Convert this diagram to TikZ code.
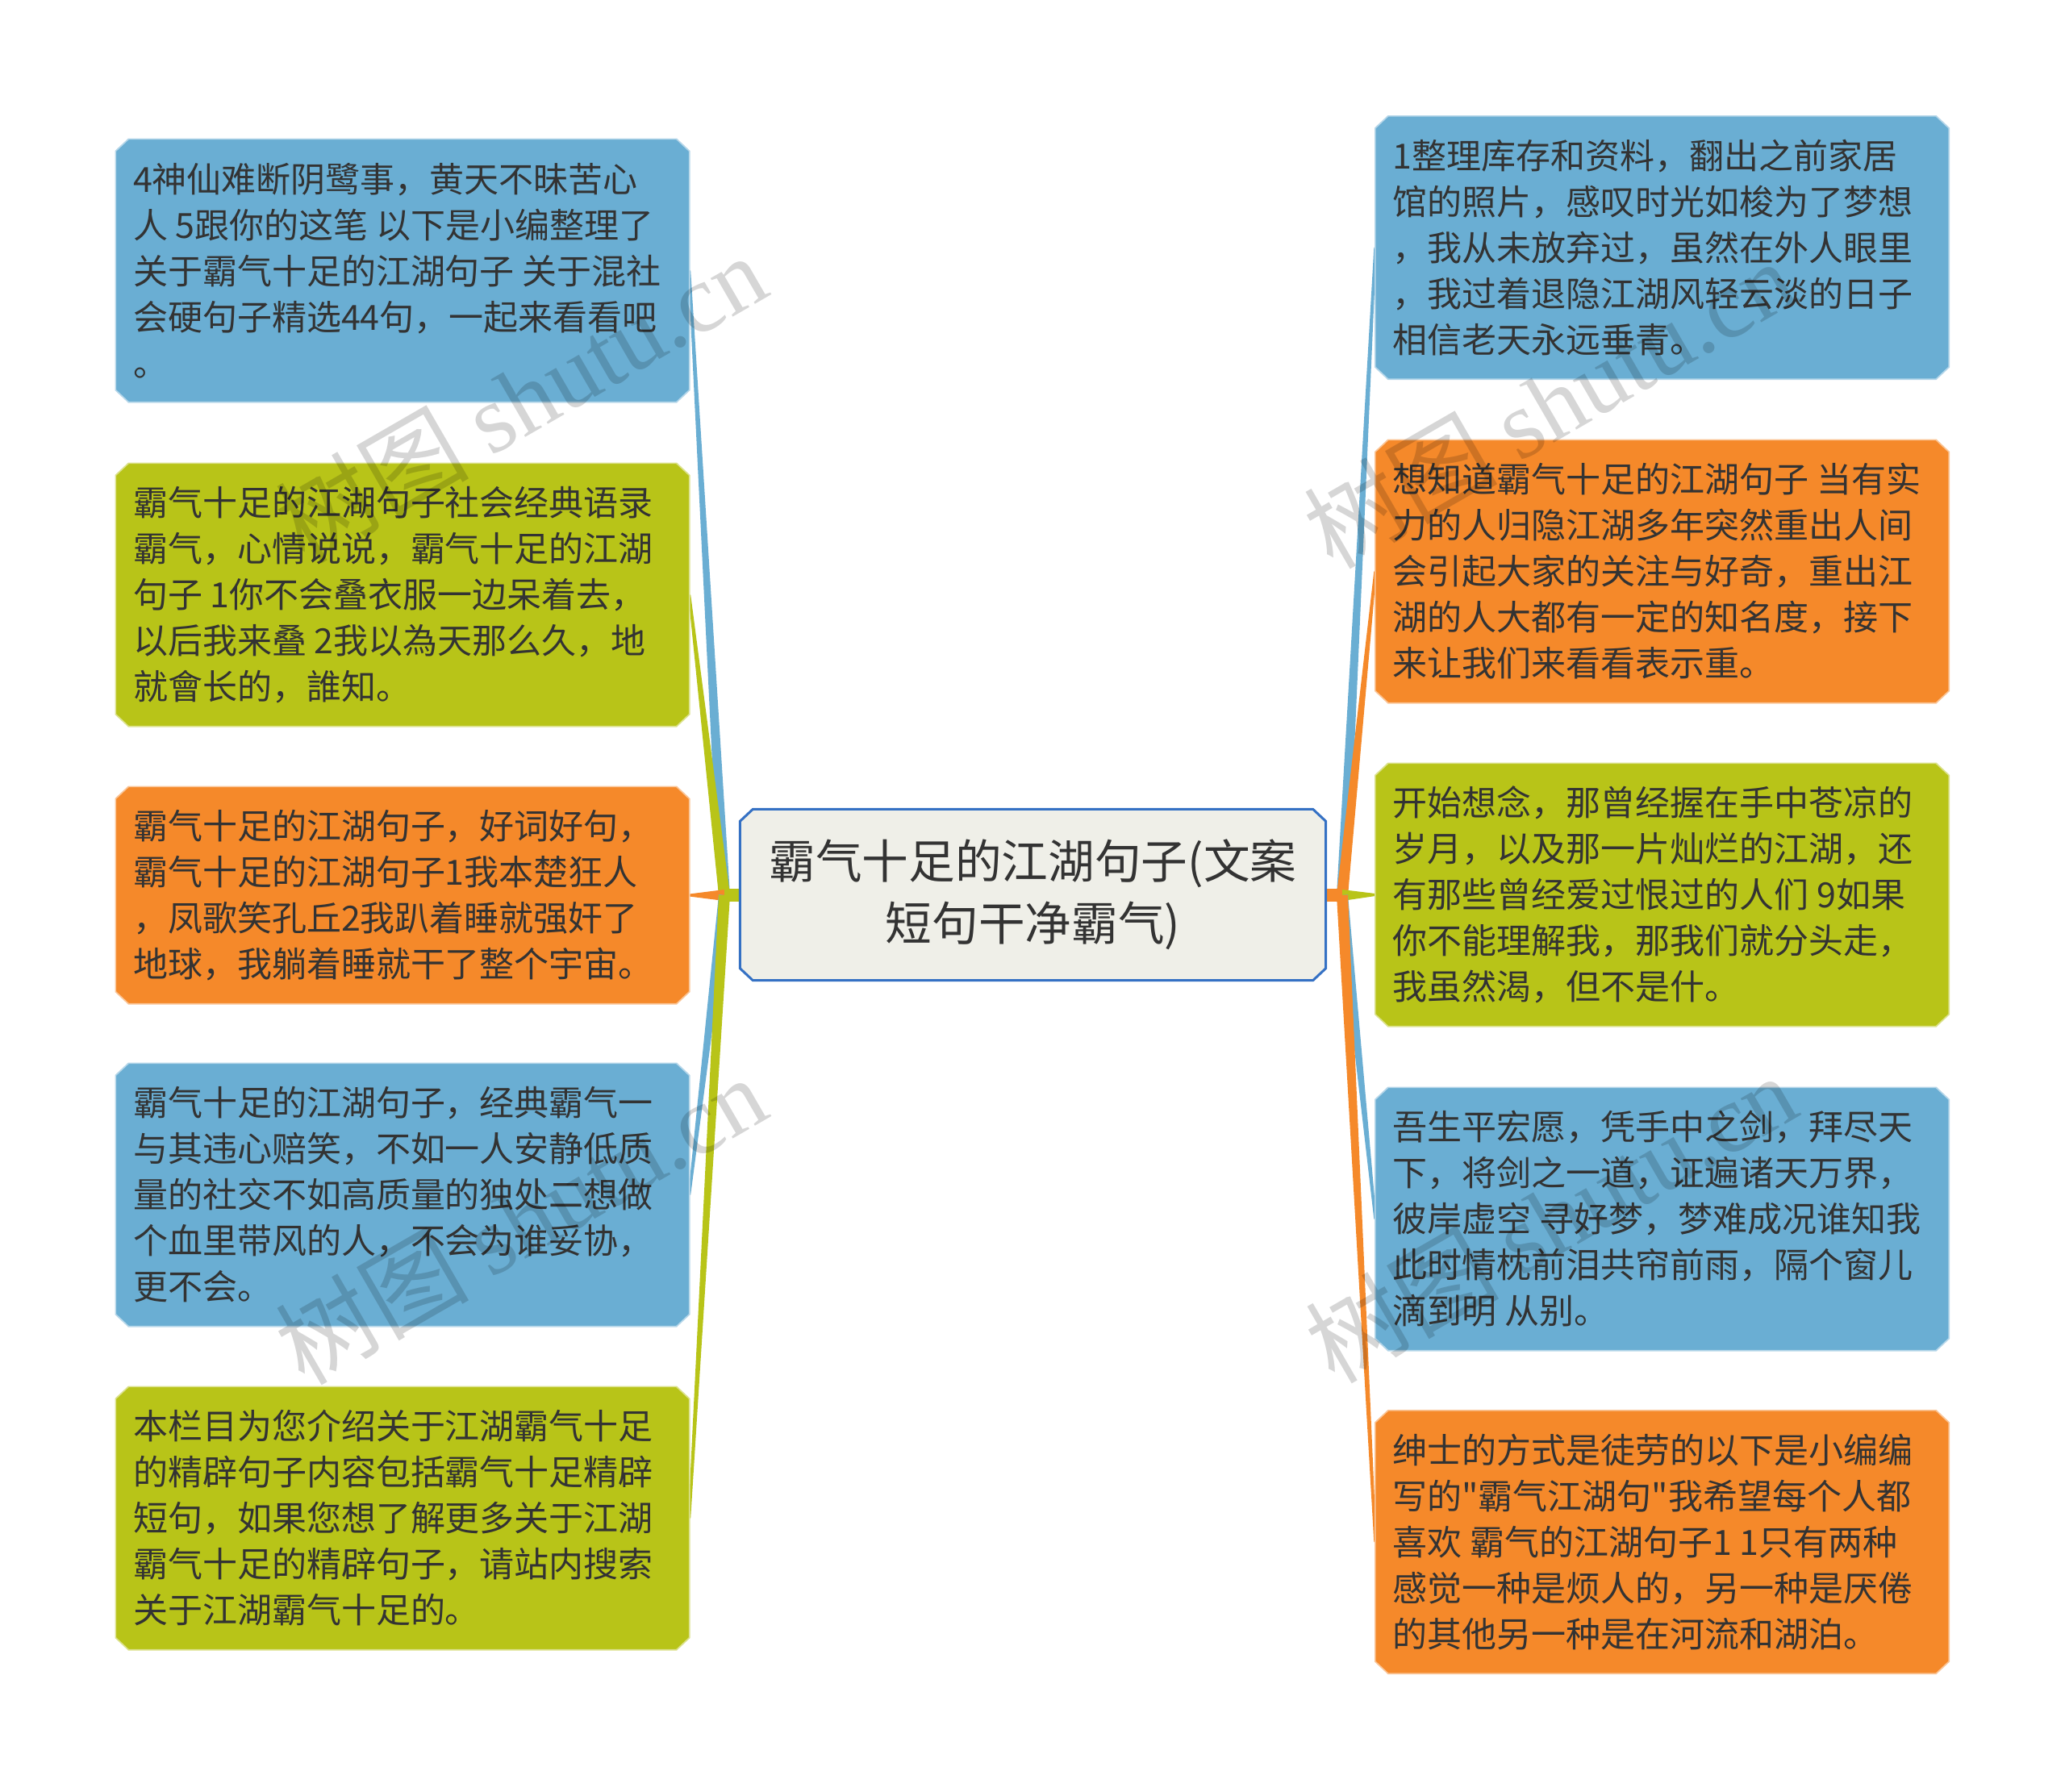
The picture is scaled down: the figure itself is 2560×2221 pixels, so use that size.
\documentclass[tikz,border=0pt]{standalone}
\usepackage{fontspec}
\setmainfont{Noto Sans CJK SC}
\newfontfamily\cjkplain{Noto Sans CJK SC}
\newfontfamily\wmlatin{Liberation Serif}
\usetikzlibrary{calc}
\definecolor{bblue}{RGB}{106,174,211}
\definecolor{bgreen}{RGB}{184,196,24}
\definecolor{borange}{RGB}{245,137,42}
\definecolor{cfill}{RGB}{239,239,232}
\definecolor{cborder}{RGB}{53,113,196}
\definecolor{tcol}{RGB}{51,51,51}
\newcommand\qq{{\cjkplain\char"22}}
\newcommand\chbox[4]{% name, fill, draw, width
  \path[fill=#2, draw=#3, line width=#4] ([xshift=4.8pt]#1.north west) -- ([xshift=-4.8pt]#1.north east) -- ([yshift=-4.5pt]#1.north east) -- ([yshift=4.5pt]#1.south east) -- ([xshift=-4.8pt]#1.south east) -- ([xshift=4.8pt]#1.south west) -- ([yshift=4.5pt]#1.south west) -- ([yshift=-4.5pt]#1.north west) -- cycle;}
\newcommand\branch[4]{% color, root, junction, end
  \fill[#1] ($(#2)+(0,2.25pt)$) rectangle ($(#3)+(0,-2.25pt)$);
  \fill[#1] ($(#3)!2.1pt!90:(#4)$) -- ($(#4)!0.45pt!-90:(#3)$) -- ($(#4)!0.45pt!90:(#3)$) -- ($(#3)!2.1pt!-90:(#4)$) -- cycle;}
\tikzset{
  boxn/.style={rectangle, draw=none, inner sep=0, minimum width=213pt, minimum height=97.5pt},
  txt/.style={anchor=west, inner sep=0, align=left, text=tcol, font=\fontsize{12.9pt}{17.1pt}\selectfont},
  ctxt/.style={inner sep=0, align=center, text=tcol, font=\fontsize{17.3pt}{23pt}\selectfont},
  wm/.style={rotate=30, text=black, text opacity=0.16, inner sep=0, font=\fontsize{36pt}{40pt}\selectfont}
}
\begin{document}
\begin{tikzpicture}[x=0.3pt, y=-0.3pt]
\useasboundingbox (0,0) rectangle (2560,2221);
\fill[white] (0,0) rectangle (2560,2221);
% node frames
\node[boxn, minimum width=217.5pt, minimum height=63.3pt] (C) at (1280.5,1109.5) {};
\node[boxn] (L1) at (499,335.5) {};
\node[boxn] (L2) at (499,737.5) {};
\node[boxn, minimum height=80.4pt] (L3) at (499,1110) {};
\node[boxn] (L4) at (499,1481.5) {};
\node[boxn] (L5) at (499,1882.5) {};
\node[boxn] (R1) at (2060.5,307) {};
\node[boxn] (R2) at (2060.5,708.5) {};
\node[boxn] (R3) at (2060.5,1109.5) {};
\node[boxn] (R4) at (2060.5,1511.5) {};
\node[boxn] (R5) at (2060.5,1912) {};
\coordinate (JL) at (898,1110);
\coordinate (JR) at (1664,1110);
% branches
\branch{bblue}{C.west}{JL}{L1.east}
\branch{bgreen}{C.west}{JL}{L2.east}
\branch{borange}{C.west}{JL}{L3.east}
\branch{bblue}{C.west}{JL}{L4.east}
\branch{bgreen}{C.west}{JL}{L5.east}
\branch{bblue}{C.east}{JR}{R1.west}
\branch{borange}{C.east}{JR}{R2.west}
\branch{bgreen}{C.east}{JR}{R3.west}
\branch{bblue}{C.east}{JR}{R4.west}
\branch{borange}{C.east}{JR}{R5.west}
% boxes
\chbox{C}{cfill}{cborder}{0.9pt}
\chbox{L1}{bblue}{bblue!50!white}{0.5pt}
\chbox{L2}{bgreen}{bgreen!50!white}{0.5pt}
\chbox{L3}{borange}{borange!50!white}{0.5pt}
\chbox{L4}{bblue}{bblue!50!white}{0.5pt}
\chbox{L5}{bgreen}{bgreen!50!white}{0.5pt}
\chbox{R1}{bblue}{bblue!50!white}{0.5pt}
\chbox{R2}{borange}{borange!50!white}{0.5pt}
\chbox{R3}{bgreen}{bgreen!50!white}{0.5pt}
\chbox{R4}{bblue}{bblue!50!white}{0.5pt}
\chbox{R5}{borange}{borange!50!white}{0.5pt}
% texts
\node[ctxt] (Ct) at (C.center) {霸气十足的江湖句子(文案\\短句干净霸气)};
\node[txt] (L1t) at ([xshift=6.3pt]L1.west) {4神仙难断阴鹭事，黄天不昧苦心\\人 5跟你的这笔 以下是小编整理了\\关于霸气十足的江湖句子 关于混社\\会硬句子精选44句，一起来看看吧\\。};
\node[txt] (L2t) at ([xshift=6.3pt]L2.west) {霸气十足的江湖句子社会经典语录\\霸气，心情说说，霸气十足的江湖\\句子 1你不会叠衣服一边呆着去，\\以后我来叠 2我以為天那么久，地\\就會长的，誰知。};
\node[txt] (L3t) at ([xshift=6.3pt]L3.west) {霸气十足的江湖句子，好词好句，\\霸气十足的江湖句子1我本楚狂人\\，凤歌笑孔丘2我趴着睡就强奸了\\地球，我躺着睡就干了整个宇宙。};
\node[txt] (L4t) at ([xshift=6.3pt]L4.west) {霸气十足的江湖句子，经典霸气一\\与其违心赔笑，不如一人安静低质\\量的社交不如高质量的独处二想做\\个血里带风的人，不会为谁妥协，\\更不会。};
\node[txt] (L5t) at ([xshift=6.3pt]L5.west) {本栏目为您介绍关于江湖霸气十足\\的精辟句子内容包括霸气十足精辟\\短句，如果您想了解更多关于江湖\\霸气十足的精辟句子，请站内搜索\\关于江湖霸气十足的。};
\node[txt] (R1t) at ([xshift=6.3pt]R1.west) {1整理库存和资料，翻出之前家居\\馆的照片，感叹时光如梭为了梦想\\，我从未放弃过，虽然在外人眼里\\，我过着退隐江湖风轻云淡的日子\\相信老天永远垂青。};
\node[txt] (R2t) at ([xshift=6.3pt]R2.west) {想知道霸气十足的江湖句子 当有实\\力的人归隐江湖多年突然重出人间\\会引起大家的关注与好奇，重出江\\湖的人大都有一定的知名度，接下\\来让我们来看看表示重。};
\node[txt] (R3t) at ([xshift=6.3pt]R3.west) {开始想念，那曾经握在手中苍凉的\\岁月，以及那一片灿烂的江湖，还\\有那些曾经爱过恨过的人们 9如果\\你不能理解我，那我们就分头走，\\我虽然渴，但不是什。};
\node[txt] (R4t) at ([xshift=6.3pt]R4.west) {吾生平宏愿，凭手中之剑，拜尽天\\下，将剑之一道，证遍诸天万界，\\彼岸虚空 寻好梦，梦难成况谁知我\\此时情枕前泪共帘前雨，隔个窗儿\\滴到明 从别。};
\node[txt] (R5t) at ([xshift=6.3pt]R5.west) {绅士的方式是徒劳的以下是小编编\\写的\qq 霸气江湖句\qq 我希望每个人都\\喜欢 霸气的江湖句子1 1只有两种\\感觉一种是烦人的，另一种是厌倦\\的其他另一种是在河流和湖泊。};
% watermarks
\node[wm] (wm1) at (645,493) {树图 {\wmlatin shutu.cn}};
\node[wm] (wm2) at (645,1512) {树图 {\wmlatin shutu.cn}};
\node[wm] (wm3) at (1920,500) {树图 {\wmlatin shutu.cn}};
\node[wm] (wm4) at (1922,1510) {树图 {\wmlatin shutu.cn}};
\end{tikzpicture}
\end{document}
